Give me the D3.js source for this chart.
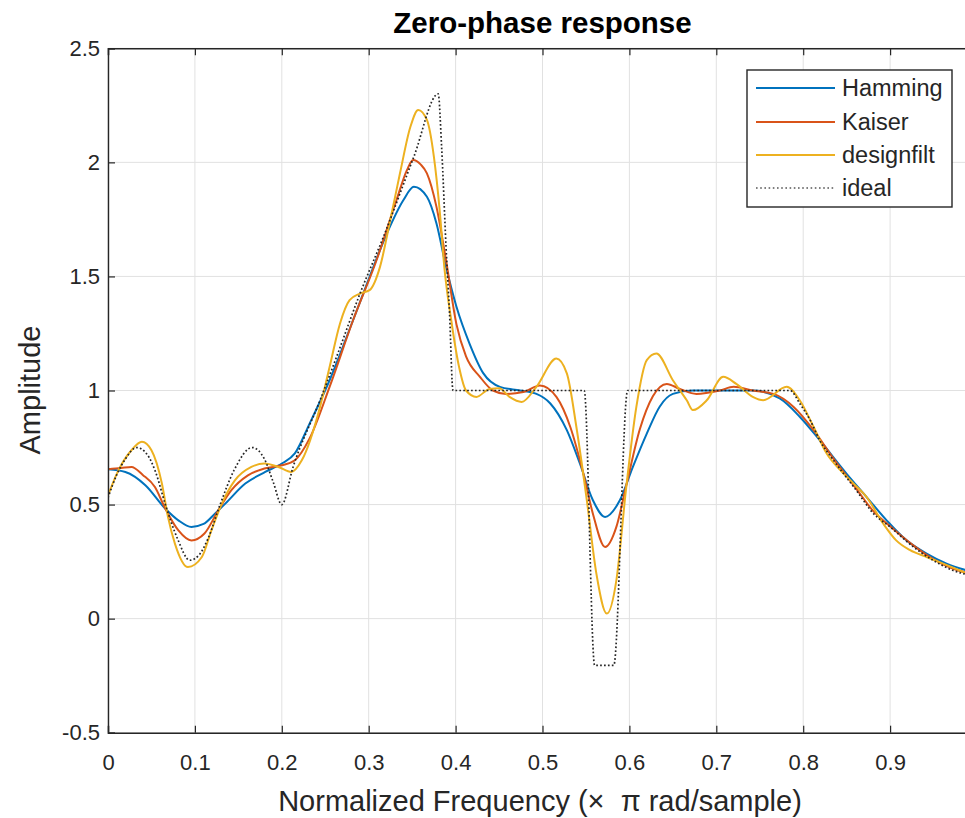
<!DOCTYPE html>
<html>
<head>
<meta charset="utf-8">
<script src="https://cdn.jsdelivr.net/npm/d3@7"></script>
<style>
  html, body { margin: 0; padding: 0; background: #fff; }
  svg { display: block; font-family: "Liberation Sans", Arial, Helvetica, sans-serif; }
</style>
</head>
<body>
<svg id="chart" width="965" height="818"></svg>
<script>
// ---------- data ----------
const xTicks = [0, 0.1, 0.2, 0.3, 0.4, 0.5, 0.6, 0.7, 0.8, 0.9];
const xTickLabels = ["0", "0.1", "0.2", "0.3", "0.4", "0.5", "0.6", "0.7", "0.8", "0.9"];
const yTicks = [-0.5, 0, 0.5, 1, 1.5, 2, 2.5];
const yTickLabels = ["-0.5", "0", "0.5", "1", "1.5", "2", "2.5"];
const seriesNames = ["Hamming", "Kaiser", "designfilt", "ideal"];

const hammingF = [0, 0.02, 0.043, 0.066, 0.081, 0.096, 0.11, 0.123, 0.135, 0.158, 0.181, 0.2, 0.215, 0.232, 0.255, 0.282, 0.301, 0.321, 0.34, 0.352, 0.367, 0.378, 0.389, 0.401, 0.416, 0.432, 0.451, 0.474, 0.493, 0.509, 0.528, 0.543, 0.558, 0.572, 0.589, 0.604, 0.62, 0.635, 0.65, 0.673, 0.742, 0.773, 0.796, 0.819, 0.85, 0.873, 0.896, 0.919, 0.942, 0.965, 1.0];
const hammingA = [0.655, 0.643, 0.585, 0.482, 0.431, 0.402, 0.415, 0.46, 0.504, 0.592, 0.643, 0.68, 0.724, 0.855, 1.045, 1.308, 1.498, 1.689, 1.835, 1.893, 1.849, 1.732, 1.542, 1.367, 1.206, 1.075, 1.016, 1.0, 0.985, 0.943, 0.826, 0.68, 0.519, 0.446, 0.519, 0.665, 0.811, 0.93, 0.985, 1.0, 1.0, 0.965, 0.885, 0.782, 0.635, 0.533, 0.431, 0.343, 0.285, 0.241, 0.2];

const kaiserF = [0, 0.015, 0.027, 0.04, 0.054, 0.066, 0.081, 0.096, 0.111, 0.127, 0.142, 0.161, 0.18, 0.2, 0.215, 0.232, 0.255, 0.282, 0.309, 0.332, 0.344, 0.351, 0.36, 0.367, 0.378, 0.389, 0.401, 0.412, 0.428, 0.443, 0.458, 0.478, 0.497, 0.516, 0.532, 0.547, 0.558, 0.572, 0.585, 0.596, 0.612, 0.627, 0.643, 0.658, 0.677, 0.704, 0.72, 0.742, 0.766, 0.789, 0.812, 0.835, 0.861, 0.881, 0.9, 0.927, 0.949, 0.972, 1.0];
const kaiserA = [0.655, 0.66, 0.665, 0.63, 0.577, 0.482, 0.387, 0.343, 0.373, 0.475, 0.563, 0.628, 0.658, 0.672, 0.694, 0.79, 1.016, 1.308, 1.571, 1.835, 1.966, 2.01, 1.99, 1.952, 1.805, 1.571, 1.29, 1.15, 1.06, 1.0, 0.985, 0.993, 1.022, 0.972, 0.84, 0.636, 0.46, 0.314, 0.402, 0.577, 0.83, 0.975, 1.029, 1.007, 0.985, 1.0, 1.016, 1.0, 0.985, 0.928, 0.826, 0.7, 0.57, 0.47, 0.405, 0.32, 0.262, 0.22, 0.19];

const designF = [0, 0.012, 0.027, 0.039, 0.05, 0.062, 0.069, 0.077, 0.092, 0.108, 0.119, 0.131, 0.146, 0.165, 0.18, 0.196, 0.211, 0.223, 0.244, 0.255, 0.267, 0.278, 0.29, 0.301, 0.313, 0.324, 0.336, 0.348, 0.357, 0.367, 0.375, 0.382, 0.387, 0.395, 0.404, 0.412, 0.424, 0.439, 0.45, 0.462, 0.476, 0.493, 0.516, 0.528, 0.539, 0.551, 0.562, 0.574, 0.585, 0.596, 0.608, 0.62, 0.631, 0.65, 0.666, 0.673, 0.689, 0.708, 0.723, 0.742, 0.754, 0.781, 0.796, 0.812, 0.827, 0.843, 0.858, 0.873, 0.892, 0.907, 0.923, 0.942, 0.961, 1.0];
const designA = [0.54, 0.65, 0.738, 0.775, 0.738, 0.592, 0.446, 0.329, 0.226, 0.27, 0.387, 0.504, 0.606, 0.665, 0.68, 0.665, 0.643, 0.694, 0.928, 1.103, 1.294, 1.396, 1.425, 1.44, 1.542, 1.732, 1.952, 2.156, 2.23, 2.186, 2.025, 1.776, 1.542, 1.308, 1.103, 1.0, 0.972, 1.007, 1.01, 0.972, 0.95, 1.016, 1.14, 1.075, 0.84, 0.519, 0.197, 0.022, 0.168, 0.563, 0.928, 1.133, 1.162, 1.045, 0.957, 0.914, 0.957, 1.06, 1.029, 0.972, 0.957, 1.016, 0.957, 0.84, 0.724, 0.65, 0.592, 0.533, 0.417, 0.343, 0.3, 0.27, 0.241, 0.18];

const idealF = [0, 0.01, 0.02, 0.033, 0.045, 0.055, 0.066, 0.08, 0.094, 0.105, 0.115, 0.129, 0.145, 0.166, 0.18, 0.19, 0.2, 0.213, 0.244, 0.263, 0.29, 0.317, 0.352, 0.38, 0.384, 0.389, 0.393, 0.397, 0.548, 0.56, 0.582, 0.598, 0.785, 0.796, 0.808, 0.819, 0.835, 0.861, 0.881, 0.9, 0.927, 0.949, 0.972, 1.0];
const idealA = [0.53, 0.63, 0.70, 0.75, 0.72, 0.64, 0.5, 0.35, 0.256, 0.28, 0.35, 0.5, 0.65, 0.75, 0.7, 0.6, 0.5, 0.665, 0.957, 1.147, 1.425, 1.674, 2.025, 2.30, 2.06, 1.63, 1.34, 1.0, 1.0, -0.205, -0.205, 1.0, 1.0, 0.943, 0.87, 0.782, 0.694, 0.563, 0.46, 0.402, 0.314, 0.257, 0.212, 0.185];

// ---------- drawing ----------
const W = 965, H = 818;
const plot = { left: 108, top: 48.3, right: 977, bottom: 732.7 };
const svg = d3.select("#chart");

const x = d3.scaleLinear().domain([0, 1]).range([plot.left, plot.right]);
const y = d3.scaleLinear().domain([-0.5, 2.5]).range([plot.bottom, plot.top]);

svg.append("rect").attr("width", W).attr("height", H).attr("fill", "#fff");

svg.append("defs").append("clipPath").attr("id", "clip")
  .append("rect").attr("x", plot.left).attr("y", plot.top)
  .attr("width", plot.right - plot.left).attr("height", plot.bottom - plot.top);

// grid
const grid = svg.append("g").attr("stroke", "#e1e1e1").attr("stroke-width", 1);
grid.selectAll("line.gx").data(xTicks).join("line")
  .attr("x1", d => x(d)).attr("x2", d => x(d))
  .attr("y1", plot.top).attr("y2", plot.bottom);
grid.selectAll("line.gy").data(yTicks).join("line")
  .attr("x1", plot.left).attr("x2", plot.right)
  .attr("y1", d => y(d)).attr("y2", d => y(d));

// curves
const colors = ["#0072BD", "#D95319", "#EDB120", "#262626"];
const toPts = (F, A) => F.map((f, i) => [f, A[i]]);
const series = [
  toPts(hammingF, hammingA),
  toPts(kaiserF, kaiserA),
  toPts(designF, designA),
  toPts(idealF, idealA)
];
const line = d3.line().x(d => x(d[0])).y(d => y(d[1])).curve(d3.curveMonotoneX);
const lines = svg.append("g").attr("clip-path", "url(#clip)").attr("fill", "none");
series.forEach((s, i) => {
  const p = lines.append("path").datum(s).attr("d", line)
    .attr("stroke", colors[i]).attr("stroke-linejoin", "round");
  if (i < 3) p.attr("stroke-width", 2);
  else p.attr("stroke-width", 1.7).attr("stroke-dasharray", "1.7,2.2");
});

// axes
const fs = 22;
const xAxis = d3.axisBottom(x).tickValues(xTicks)
  .tickFormat((d, i) => xTickLabels[i]).tickSize(-7).tickPadding(22);
const gx = svg.append("g").attr("transform", `translate(0,${plot.bottom})`).call(xAxis);
const xAxisTop = d3.axisTop(x).tickValues(xTicks).tickFormat("").tickSize(-7);
const gxt = svg.append("g").attr("transform", `translate(0,${plot.top})`).call(xAxisTop);
const yAxis = d3.axisLeft(y).tickValues(yTicks)
  .tickFormat((d, i) => yTickLabels[i]).tickSize(-7).tickPadding(8);
const gy = svg.append("g").attr("transform", `translate(${plot.left},0)`).call(yAxis);

[gx, gxt, gy].forEach(g => {
  g.select(".domain").attr("stroke", "#262626").attr("stroke-width", 1.4);
  g.selectAll(".tick line").attr("stroke", "#262626").attr("stroke-width", 1.2);
  g.selectAll(".tick text").attr("fill", "#262626")
    .style("font-size", fs + "px").style("font-family", '"Liberation Sans", Arial, sans-serif');
});

// title & labels
svg.append("text").attr("x", (plot.left + plot.right) / 2).attr("y", 33)
  .attr("text-anchor", "middle").attr("font-weight", "bold").attr("font-size", 29.5)
  .attr("fill", "#000").text("Zero-phase response");
svg.append("text").attr("x", 540).attr("y", 811)
  .attr("text-anchor", "middle").attr("font-size", 29).attr("fill", "#262626")
  .attr("xml:space", "preserve").style("white-space", "pre")
  .text("Normalized Frequency (\u00D7  \u03C0 rad/sample)");
svg.append("text").attr("transform", "translate(40,390) rotate(-90)")
  .attr("text-anchor", "middle").attr("font-size", 29).attr("fill", "#262626")
  .text("Amplitude");

// legend
const lg = svg.append("g");
lg.append("rect").attr("x", 747).attr("y", 70).attr("width", 205).attr("height", 137)
  .attr("fill", "#fff").attr("stroke", "#262626").attr("stroke-width", 1.4);
const rowY = [88, 122, 155, 188];
seriesNames.forEach((name, i) => {
  const l = lg.append("line").attr("x1", 756).attr("x2", 835)
    .attr("y1", rowY[i]).attr("y2", rowY[i]).attr("stroke", colors[i]);
  if (i < 3) l.attr("stroke-width", 2);
  else l.attr("stroke-width", 1.4).attr("stroke-dasharray", "1.6,2.6").attr("stroke", "#555");
  lg.append("text").attr("x", 842).attr("y", rowY[i]).attr("dy", "0.36em")
    .attr("font-size", 23.5).attr("fill", "#262626").text(name);
});
</script>
</body>
</html>
